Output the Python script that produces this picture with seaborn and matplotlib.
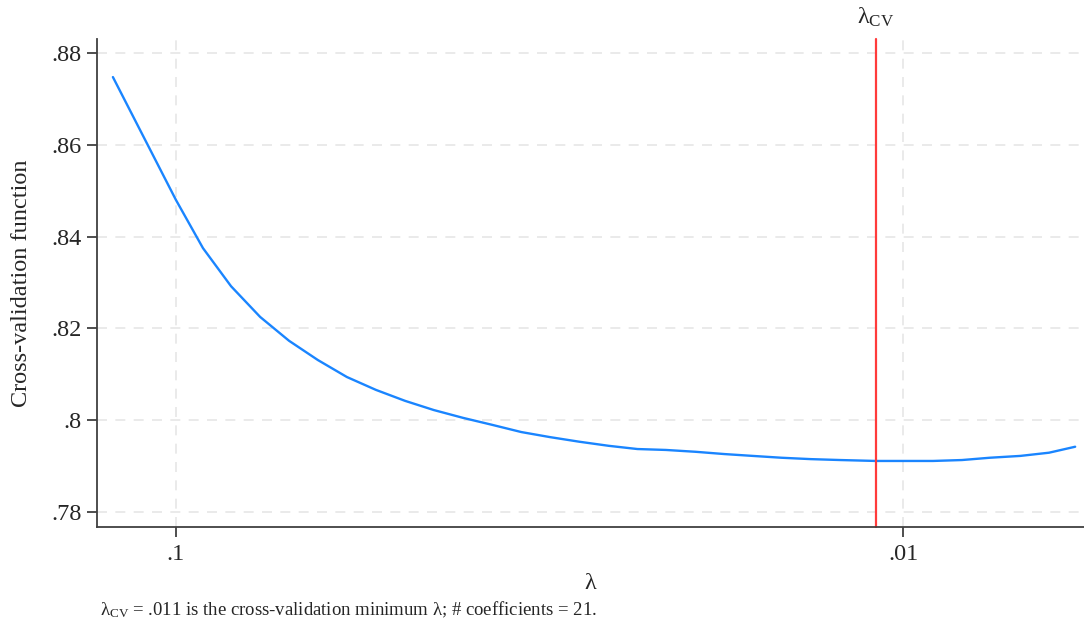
import numpy as np
import pandas as pd
import matplotlib
matplotlib.use("Agg")
import matplotlib.pyplot as plt
import matplotlib.ticker as mticker
import seaborn as sns

# lambda grid and cross-validation function
lambdas = [0.1221, 0.1000, 0.0918, 0.0840, 0.0766, 0.0699, 0.0638, 0.0582,
           0.0531, 0.0484, 0.0442, 0.0403, 0.0368, 0.0335, 0.0306, 0.0279,
           0.0254, 0.0232, 0.0212, 0.0193, 0.0176, 0.0161, 0.0147, 0.0134,
           0.0122, 0.0109, 0.0100, 0.0091, 0.0083, 0.0076, 0.0069, 0.0063,
           0.0058]
cv_values = [0.8748, 0.8480, 0.8375, 0.8292, 0.8225, 0.8173, 0.8131, 0.8094,
             0.8066, 0.8042, 0.8022, 0.8005, 0.7990, 0.7974, 0.7963, 0.7953,
             0.7944, 0.7937, 0.7935, 0.7931, 0.7926, 0.7922, 0.7918, 0.7915,
             0.7913, 0.7911, 0.7911, 0.7911, 0.7913, 0.7918, 0.7922, 0.7929,
             0.7942]
lambda_cv = 0.0109
y_ticks = [0.78, 0.80, 0.82, 0.84, 0.86, 0.88]
y_ticklabels = ['.78', '.8', '.82', '.84', '.86', '.88']
x_ticks = [0.1, 0.01]
x_ticklabels = ['.1', '.01']
note = r'$\mathrm{λ}_{\mathrm{CV}}$ = .011 is the cross-validation minimum λ; # coefficients = 21.'

df = pd.DataFrame({'lambda': lambdas, 'cv': cv_values})

sns.set_style('white')
plt.rcParams['font.family'] = ['Liberation Serif', 'DejaVu Serif']
plt.rcParams['mathtext.fontset'] = 'custom'
plt.rcParams['mathtext.rm'] = 'Liberation Serif'
plt.rcParams['mathtext.it'] = 'Liberation Serif:italic'

fig = plt.figure(figsize=(10.84, 6.25), dpi=100)
ax = fig.add_axes([0.0895, 0.1568, 0.9105, 0.7808])

sns.lineplot(data=df, x='lambda', y='cv', ax=ax, color='#1a85ff', linewidth=1.7)
ax.axvline(lambda_cv, color='#ff3b3b', linewidth=1.6, ymax=1.0, clip_on=False)

ax.set_xscale('log')
ax.set_xlim(0.1284, 0.00564)
ax.set_ylim(0.7767, 0.8831)
ax.xaxis.set_minor_locator(mticker.NullLocator())
ax.set_xticks(x_ticks)
ax.set_xticklabels(x_ticklabels)
ax.set_yticks(y_ticks)
ax.set_yticklabels(y_ticklabels)
ax.tick_params(axis='both', direction='out', length=7, width=1.3, color='#404040',
               labelsize=17.5, pad=4, bottom=True, left=True)
ax.tick_params(axis='x', pad=5)

ax.grid(True, linestyle=(0, (6, 5)), color='#e6e6e6', linewidth=1.2)
ax.set_axisbelow(True)
for side in ['top', 'right']:
    ax.spines[side].set_visible(False)
for side in ['left', 'bottom']:
    ax.spines[side].set_color('#404040')
    ax.spines[side].set_linewidth(1.3)

ax.set_xlabel('λ', fontsize=17.5, labelpad=6)
ax.set_ylabel('Cross-validation function', fontsize=17.5, labelpad=14)

ax.text(lambda_cv, 1.02, r'$\mathrm{λ}_{\mathrm{CV}}$', transform=ax.get_xaxis_transform(),
        ha='center', va='bottom', fontsize=17.5)
fig.text(0.092, 0.008, note, fontsize=13.5, ha='left', va='bottom')

fig.savefig('out.png', dpi=100)
